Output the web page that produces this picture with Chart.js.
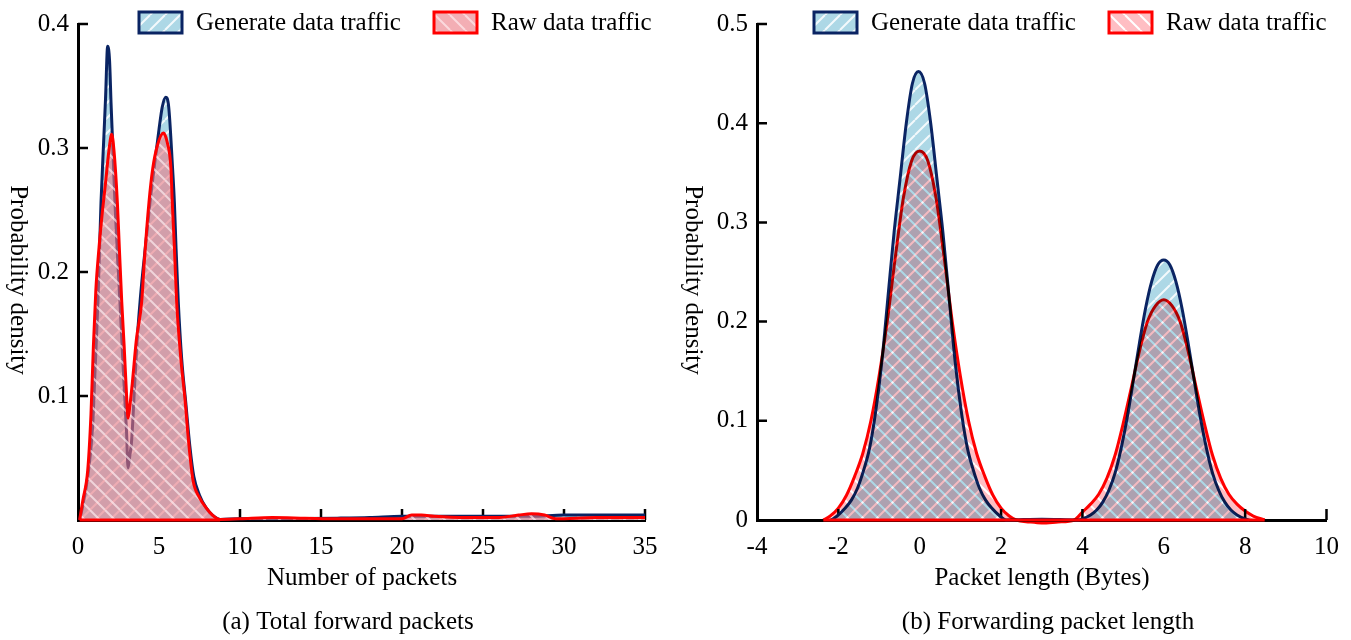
<!DOCTYPE html>
<html>
<head>
<meta charset="utf-8">
<script src="https://cdn.jsdelivr.net/npm/chart.js@4.4.1/dist/chart.umd.min.js"></script>
<style>
  html, body { margin: 0; padding: 0; background: #fff; width: 1351px; height: 640px; overflow: hidden; }
  canvas { position: absolute; top: 0; }
  #chartA { left: 0; }
  #chartB { left: 675px; }
</style>
</head>
<body>
<canvas id="chartA" width="675" height="640"></canvas>
<canvas id="chartB" width="676" height="640"></canvas>
<script>
// ---- data ----
// (a) Total forward packets
const genA_x = [0.1, 0.3, 0.6, 0.9, 1.05, 1.23, 1.42, 1.6, 1.7, 1.83, 1.95, 2.04, 2.15, 2.28, 2.45, 2.59, 2.8, 3.0, 3.09, 3.2, 3.31, 3.5, 3.65, 3.83, 4.0, 4.2, 4.44, 4.69, 5.0, 5.2, 5.41, 5.6, 5.84, 5.95, 6.05, 6.19, 6.4, 6.65, 6.9, 7.15, 7.5, 7.9, 8.3, 8.8, 10, 12, 14, 16, 18, 20, 22, 24, 26, 28, 30, 32, 35];
const genA_y = [0, 0.012, 0.035, 0.075, 0.12, 0.176, 0.256, 0.31, 0.34, 0.382, 0.37, 0.336, 0.3, 0.256, 0.21, 0.176, 0.12, 0.07, 0.042, 0.052, 0.064, 0.11, 0.145, 0.176, 0.2, 0.225, 0.256, 0.283, 0.315, 0.333, 0.341, 0.333, 0.283, 0.256, 0.22, 0.176, 0.13, 0.095, 0.06, 0.035, 0.02, 0.01, 0.004, 0.0005, 0.001, 0.001, 0.0012, 0.0015, 0.002, 0.003, 0.003, 0.003, 0.003, 0.003, 0.004, 0.004, 0.004];
const rawA_x = [0.1, 0.3, 0.6, 0.8, 0.95, 1.1, 1.3, 1.5, 1.7, 1.9, 2.08, 2.22, 2.43, 2.55, 2.7, 2.85, 3.0, 3.09, 3.2, 3.35, 3.6, 3.93, 4.1, 4.38, 4.61, 4.9, 5.27, 5.5, 5.74, 5.82, 5.95, 6.09, 6.35, 6.6, 6.85, 7.1, 7.5, 7.9, 8.3, 8.77, 10, 12, 14, 16, 18, 20, 20.6, 21.2, 22, 24, 26, 27.2, 28, 28.8, 29.5, 32, 35];
const rawA_y = [0, 0.016, 0.04, 0.085, 0.14, 0.185, 0.22, 0.248, 0.272, 0.297, 0.311, 0.298, 0.256, 0.22, 0.176, 0.14, 0.1, 0.082, 0.092, 0.11, 0.145, 0.176, 0.21, 0.256, 0.283, 0.302, 0.312, 0.305, 0.283, 0.256, 0.22, 0.176, 0.13, 0.098, 0.06, 0.032, 0.018, 0.01, 0.004, 0.0005, 0.001, 0.002, 0.0015, 0.001, 0.001, 0.001, 0.004, 0.004, 0.003, 0.002, 0.002, 0.004, 0.005, 0.004, 0.001, 0.002, 0.002];
const baseA = [0.1, 8.77];
const xAxisA = [0, 35, 5];
const yAxisA = [0, 0.4, 0.1];

// (b) Forwarding packet length
const genB_x = [-2.18, -2.03, -1.83, -1.68, -1.53, -1.38, -1.23, -1.08, -0.93, -0.78, -0.63, -0.48, -0.33, -0.18, -0.03, 0.12, 0.27, 0.42, 0.57, 0.72, 0.87, 1.02, 1.17, 1.32, 1.47, 1.62, 1.77, 1.97, 2.12, 3.0, 3.9, 4.0, 4.2, 4.35, 4.5, 4.65, 4.8, 4.95, 5.1, 5.25, 5.4, 5.55, 5.7, 5.85, 6.0, 6.15, 6.3, 6.45, 6.6, 6.75, 6.9, 7.05, 7.2, 7.35, 7.5, 7.65, 7.8, 8.0, 8.1];
const genB_y = [0, 0.004, 0.012, 0.02, 0.032, 0.05, 0.073, 0.11, 0.16, 0.225, 0.29, 0.345, 0.4, 0.44, 0.452, 0.44, 0.4, 0.345, 0.29, 0.225, 0.16, 0.11, 0.073, 0.05, 0.032, 0.02, 0.012, 0.004, 0, 0.0008, 0, 0.001, 0.005, 0.01, 0.018, 0.03, 0.047, 0.072, 0.103, 0.14, 0.178, 0.213, 0.24, 0.257, 0.262, 0.257, 0.24, 0.213, 0.178, 0.14, 0.103, 0.072, 0.047, 0.03, 0.018, 0.01, 0.005, 0.001, 0];
const rawB_x = [-2.37, -2.2, -2.0, -1.8, -1.6, -1.4, -1.2, -1.0, -0.8, -0.6, -0.4, -0.2, 0, 0.2, 0.4, 0.6, 0.8, 1.0, 1.2, 1.4, 1.6, 1.8, 2.0, 2.2, 2.37, 2.7, 3.0, 3.4, 3.8, 4.0, 4.2, 4.4, 4.6, 4.8, 5.0, 5.2, 5.4, 5.6, 5.8, 6.0, 6.2, 6.4, 6.6, 6.8, 7.0, 7.2, 7.4, 7.6, 7.8, 8.0, 8.2, 8.48];
const rawB_y = [0, 0.004, 0.012, 0.025, 0.044, 0.067, 0.1, 0.145, 0.2, 0.265, 0.325, 0.362, 0.372, 0.362, 0.325, 0.265, 0.2, 0.145, 0.1, 0.067, 0.044, 0.025, 0.012, 0.004, 0, -0.002, -0.003, -0.002, 0, 0.008, 0.016, 0.026, 0.042, 0.065, 0.097, 0.133, 0.17, 0.2, 0.216, 0.222, 0.216, 0.2, 0.17, 0.133, 0.097, 0.065, 0.042, 0.026, 0.016, 0.009, 0.004, 0];
const baseB = [-2.37, 8.48];
const xAxisB = [-4, 10, 2];
const yAxisB = [0, 0.5, 0.1];

const seriesNames = ['Generate data traffic', 'Raw data traffic'];

// ---- styling ----
const FONT = "'Liberation Serif', 'Times New Roman', serif";
const NAVY = '#0a2463';
const RED = '#ff0000';

Chart.defaults.font.family = FONT;
Chart.defaults.font.size = 25;
Chart.defaults.color = '#000';

function hatch(base, stripe, dir) {
  const size = 15;
  const c = document.createElement('canvas');
  c.width = c.height = size;
  const g = c.getContext('2d');
  g.fillStyle = base;
  g.fillRect(0, 0, size, size);
  g.strokeStyle = stripe;
  g.lineWidth = 2;
  g.beginPath();
  for (const o of [-size, 0, size]) {
    if (dir === '/') { g.moveTo(o, size); g.lineTo(o + size, 0); }
    else { g.moveTo(o, 0); g.lineTo(o + size, size); }
  }
  g.stroke();
  return g.createPattern(c, 'repeat');
}

const bluePat = hatch('rgb(173,216,230)', 'rgba(255,255,255,0.85)', '/');
const redPatA = hatch('rgba(235,120,130,0.6)', 'rgba(255,240,242,0.65)', '\\');
const redPatB = hatch('rgb(255,190,195)', '#ffffff', '\\');

const zip = (xs, ys) => xs.map((x, i) => ({ x, y: ys[i] }));

// inward ticks, legend, titles
const decor = {
  id: 'decor',
  afterDatasetDraw(chart, args, opts) {
    const ds = chart.data.datasets[args.index];
    if (opts.blend) chart.ctx.globalCompositeOperation = ds.blendNext ? opts.blend : 'source-over';
  },
  beforeDatasetsDraw(chart) {
    const { ctx, chartArea: a, scales: { x, y } } = chart;
    ctx.save();
    ctx.strokeStyle = '#000';
    ctx.lineWidth = 2.5;
    ctx.beginPath();
    x.ticks.forEach(t => {
      if (t.value === x.min) return;
      const px = x.getPixelForValue(t.value);
      ctx.moveTo(px, a.bottom); ctx.lineTo(px, a.bottom - 11);
    });
    y.ticks.forEach(t => {
      if (Math.abs(t.value - y.min) < 1e-9) return;
      const py = y.getPixelForValue(t.value);
      ctx.moveTo(a.left, py); ctx.lineTo(a.left + 10, py);
    });
    ctx.stroke();
    ctx.restore();
  },
  afterDraw(chart, args, opts) {
    const { ctx } = chart;
    ctx.save();
    ctx.globalCompositeOperation = 'source-over';
    ctx.fillStyle = '#000';
    ctx.font = '25px ' + FONT;
    // legend
    ctx.textBaseline = 'middle';
    ctx.textAlign = 'left';
    opts.legendX.forEach((lx, i) => {
      const ds = chart.data.datasets[i];
      ctx.fillStyle = ds.backgroundColor;
      ctx.fillRect(lx, 12, 43, 21);
      ctx.strokeStyle = ds.borderColor;
      ctx.lineWidth = 3;
      ctx.strokeRect(lx, 12, 43, 21);
      ctx.fillStyle = '#000';
      ctx.fillText(ds.label, lx + 57, 23);
    });
    // axis titles and caption
    ctx.textAlign = 'center';
    ctx.fillText(opts.xTitle, opts.xTitleX, 578);
    ctx.fillText(opts.caption, opts.captionX, 622);
    ctx.translate(opts.yTitleX, 280);
    ctx.rotate(Math.PI / 2);
    ctx.fillText('Probability density', 0, 0);
    ctx.restore();
  }
};

function makeChart(id, c) {
  return new Chart(document.getElementById(id), {
    type: 'line',
    data: {
      datasets: [
        {
          label: seriesNames[0], data: zip(c.genX, c.genY),
          borderColor: NAVY, borderWidth: 3, backgroundColor: bluePat,
          fill: 'origin', order: 2, blendNext: true
        },
        {
          label: seriesNames[1], data: zip(c.rawX, c.rawY),
          borderColor: RED, borderWidth: 3, backgroundColor: c.redPat,
          fill: 'origin', order: 1
        },
        {
          label: 'baseline', data: c.base.map(x => ({ x, y: 0 })),
          borderColor: RED, borderWidth: 3, fill: false, order: 0
        }
      ]
    },
    options: {
      responsive: false,
      animation: false,
      elements: {
        point: { radius: 0 },
        line: { cubicInterpolationMode: 'monotone', borderJoinStyle: 'round' }
      },
      datasets: { line: { clip: false } },
      layout: { padding: { left: 0, top: 20, right: c.padRight, bottom: 0 } },
      scales: {
        x: {
          type: 'linear', min: c.xAxis[0], max: c.xAxis[1],
          ticks: { stepSize: c.xAxis[2], padding: 12, maxRotation: 0, autoSkip: false, callback: v => String(v) },
          grid: { display: false, drawTicks: false },
          border: { display: true, color: '#000', width: 3 },
          afterFit: s => { s.height = 120; }
        },
        y: {
          min: c.yAxis[0], max: c.yAxis[1],
          ticks: {
            stepSize: c.yAxis[2], padding: 9,
            callback: v => Math.abs(v) < 1e-9 ? (c.showZero ? '0' : '') : v.toFixed(1)
          },
          grid: { display: false, drawTicks: false },
          border: { display: true, color: '#000', width: 3 },
          afterFit: s => { s.width = c.left; }
        }
      },
      plugins: {
        legend: { display: false },
        tooltip: { enabled: false },
        decor: {
          blend: c.blend, legendX: [139, 434],
          xTitle: c.xTitle, xTitleX: c.xTitleX,
          caption: c.caption, captionX: c.captionX, yTitleX: 18
        }
      }
    },
    plugins: [decor]
  });
}

makeChart('chartA', {
  genX: genA_x, genY: genA_y, rawX: rawA_x, rawY: rawA_y, base: baseA,
  xAxis: xAxisA, yAxis: yAxisA, showZero: false, redPat: redPatA, blend: null,
  left: 78, padRight: 30,
  xTitle: 'Number of packets', xTitleX: 362,
  caption: '(a) Total forward packets', captionX: 348
});

makeChart('chartB', {
  genX: genB_x, genY: genB_y, rawX: rawB_x, rawY: rawB_y, base: baseB,
  xAxis: xAxisB, yAxis: yAxisB, showZero: true, redPat: redPatB, blend: 'multiply',
  left: 82, padRight: 23,
  xTitle: 'Packet length (Bytes)', xTitleX: 367,
  caption: '(b) Forwarding packet length', captionX: 373
});
</script>
</body>
</html>
